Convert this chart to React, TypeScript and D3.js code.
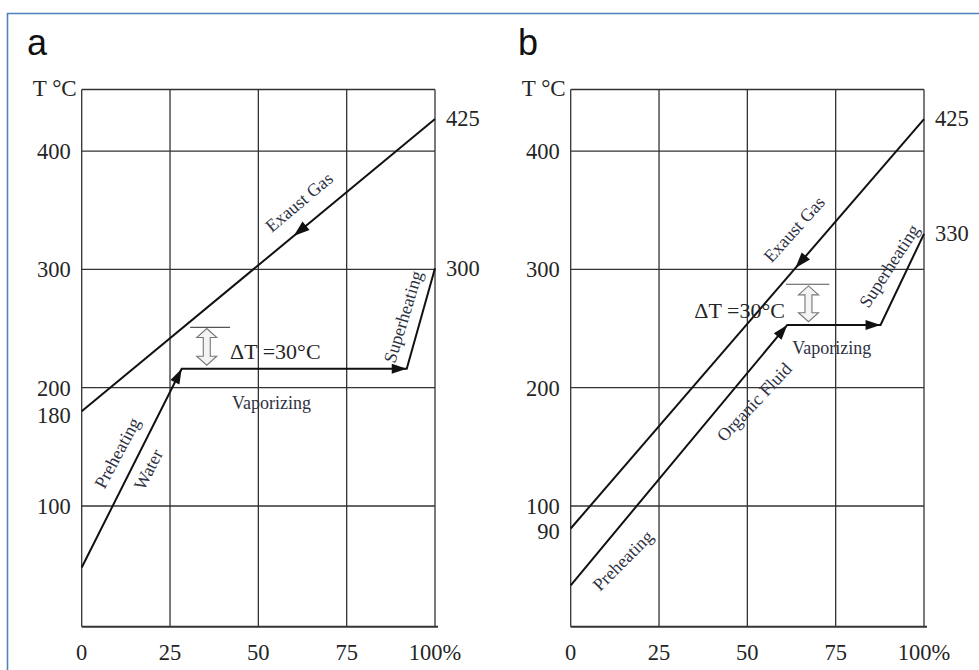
import React from "react";
import * as d3 from "d3";

// ---------- data ----------
const xTicks = [0, 25, 50, 75, 100];
const xTickLabels = ["0", "25", "50", "75", "100%"];
const yTicks = [100, 200, 300, 400];
const yDomain = [-2, 452];

// panel a (water)
const gasA = [
  { x: 0, T: 180 },
  { x: 100, T: 427 },
];
const waterA = [
  { x: 0, T: 48 },
  { x: 28.3, T: 216 },
  { x: 92, T: 216 },
  { x: 100, T: 301 },
];
// panel b (organic fluid)
const gasB = [
  { x: 0, T: 81 },
  { x: 100, T: 427 },
];
const fluidB = [
  { x: 0, T: 33 },
  { x: 61.3, T: 253 },
  { x: 87.7, T: 253 },
  { x: 100, T: 330 },
];

const extraLeftA = [{ text: "180", T: 177 }];
const extraLeftB = [{ text: "90", T: 79 }];
const rightLabelsA = [
  { text: "425", T: 428 },
  { text: "300", T: 301 },
];
const rightLabelsB = [
  { text: "425", T: 428 },
  { text: "330", T: 331 },
];

const labelsA = [
  { text: "Exaust Gas", x: 61.5, T: 357, angle: -40 },
  { text: "Preheating", x: 10.0, T: 145, angle: -62 },
  { text: "Water", x: 18.8, T: 131, angle: -63 },
  { text: "Superheating", x: 90.9, T: 260, angle: -73 },
  { text: "Vaporizing", x: 53.7, T: 187, angle: 0 },
];
const labelsB = [
  { text: "Exaust Gas", x: 63.2, T: 334, angle: -48 },
  { text: "Organic Fluid", x: 51.9, T: 188, angle: -47 },
  { text: "Preheating", x: 14.7, T: 54, angle: -45 },
  { text: "Superheating", x: 90.1, T: 303, angle: -57 },
  { text: "Vaporizing", x: 73.9, T: 233.5, angle: 0 },
];

const deltaA = { text: "ΔT =30°C", tx: 54.8, tT: 231, barX0: 30.7, barX1: 42.0, barT: 251, arrowX: 35.4, arrowT0: 250, arrowT1: 219 };
const deltaB = { text: "ΔT =30°C", tx: 47.8, tT: 265.6, barX0: 60.9, barX1: 73.2, barT: 287.4, arrowX: 67.3, arrowT0: 286, arrowT1: 255.7 };

// x position (%) of the arrow tip drawn on the exhaust gas line
const gasArrowA = 60;
const gasArrowB = 63.6;

// ---------- drawing ----------
const SERIF = "'Liberation Serif', 'Times New Roman', serif";
const TICK_COLOR = "#252525";
const LABEL_COLOR = "#2e3142";

type Pt = { x: number; T: number };

function arrowHead(tip: [number, number], from: [number, number], len = 15, half = 5) {
  const dx = tip[0] - from[0];
  const dy = tip[1] - from[1];
  const d = Math.hypot(dx, dy);
  const ux = dx / d;
  const uy = dy / d;
  const bx = tip[0] - ux * len;
  const by = tip[1] - uy * len;
  const px = -uy;
  const py = ux;
  return `M${tip[0]},${tip[1]}L${bx + px * half},${by + py * half}L${bx - px * half},${by - py * half}Z`;
}

function Panel(props: {
  left: number;
  right: number;
  top: number;
  bottom: number;
  letter: string;
  letterX: number;
  gas: Pt[];
  fluid: Pt[];
  gasArrowX: number;
  extraLeft: { text: string; T: number }[];
  rightLabels: { text: string; T: number }[];
  labels: { text: string; x: number; T: number; angle: number }[];
  delta: typeof deltaA;
}) {
  const { left, right, top, bottom } = props;
  const x = d3.scaleLinear().domain([0, 100]).range([left, right]);
  const y = d3.scaleLinear().domain(yDomain).range([bottom, top]);
  const line = d3
    .line<Pt>()
    .x((d) => x(d.x))
    .y((d) => y(d.T));

  const gasT = (xv: number) => {
    const [a, b] = props.gas;
    return a.T + ((b.T - a.T) * (xv - a.x)) / (b.x - a.x);
  };
  const gTip: [number, number] = [x(props.gasArrowX), y(gasT(props.gasArrowX))];
  const gFrom: [number, number] = [x(props.gas[1].x), y(props.gas[1].T)];

  const f = props.fluid;
  const pre = arrowHead([x(f[1].x), y(f[1].T)], [x(f[0].x), y(f[0].T)]);
  const vap = arrowHead([x(f[2].x), y(f[2].T)], [x(f[1].x), y(f[1].T)]);

  const dl = props.delta;
  const cx = x(dl.arrowX);
  const y1 = y(dl.arrowT0);
  const y2 = y(dl.arrowT1);
  const hh = 9;
  const hw = 10;
  const sw = 3.5;
  const dbl = `M${cx},${y1}L${cx + hw},${y1 + hh}L${cx + sw},${y1 + hh}L${cx + sw},${y2 - hh}L${cx + hw},${y2 - hh}L${cx},${y2}L${cx - hw},${y2 - hh}L${cx - sw},${y2 - hh}L${cx - sw},${y1 + hh}L${cx - hw},${y1 + hh}Z`;

  return (
    <g>
      <text x={props.letterX} y={55} fontFamily="'Liberation Sans', Arial, sans-serif" fontSize={36} fill="#111">
        {props.letter}
      </text>
      <text x={left - 5} y={96} textAnchor="end" fontFamily={SERIF} fontSize={23} fill={TICK_COLOR}>
        T °C
      </text>
      {/* grid */}
      {xTicks.map((t) => (
        <line key={"vx" + t} x1={x(t)} x2={x(t)} y1={top} y2={bottom} stroke="#333" strokeWidth={1.3} />
      ))}
      {yTicks.map((t) => (
        <line key={"hy" + t} x1={left} x2={right} y1={y(t)} y2={y(t)} stroke="#333" strokeWidth={1.3} />
      ))}
      <line x1={left} x2={right} y1={top} y2={top} stroke="#333" strokeWidth={1.3} />
      <line x1={left} x2={right + 3} y1={bottom} y2={bottom} stroke="#333" strokeWidth={2} />
      {/* tick labels */}
      {xTicks.map((t, i) => (
        <text key={"xl" + t} x={x(t)} y={660} textAnchor="middle" fontFamily={SERIF} fontSize={22.5} fill={TICK_COLOR}>
          {xTickLabels[i]}
        </text>
      ))}
      {yTicks.map((t) => (
        <text key={"yl" + t} x={left - 11} y={y(t)} dy="0.35em" textAnchor="end" fontFamily={SERIF} fontSize={22.5} fill={TICK_COLOR}>
          {t}
        </text>
      ))}
      {props.extraLeft.map((l) => (
        <text key={"el" + l.text} x={left - 11} y={y(l.T)} dy="0.35em" textAnchor="end" fontFamily={SERIF} fontSize={22.5} fill={TICK_COLOR}>
          {l.text}
        </text>
      ))}
      {props.rightLabels.map((l) => (
        <text key={"rl" + l.text} x={right + 11} y={y(l.T)} dy="0.35em" textAnchor="start" fontFamily={SERIF} fontSize={22.5} fill={TICK_COLOR}>
          {l.text}
        </text>
      ))}
      {/* data lines */}
      <path d={line(props.gas) || ""} fill="none" stroke="#111" strokeWidth={2} />
      <path d={line(props.fluid) || ""} fill="none" stroke="#111" strokeWidth={2} strokeLinejoin="miter" />
      <path d={arrowHead(gTip, gFrom, 16, 5.5)} fill="#111" />
      <path d={pre} fill="#111" />
      <path d={vap} fill="#111" />
      {/* delta T */}
      <line x1={x(dl.barX0)} x2={x(dl.barX1)} y1={y(dl.barT)} y2={y(dl.barT)} stroke="#555" strokeWidth={1.2} />
      <path d={dbl} fill="#f4f4f4" stroke="#777" strokeWidth={1.1} />
      <text x={x(dl.tx)} y={y(dl.tT)} dy="0.35em" textAnchor="middle" fontFamily={SERIF} fontSize={22} fill={TICK_COLOR}>
        {dl.text}
      </text>
      {/* labels */}
      {props.labels.map((l) => (
        <text
          key={"lab" + l.text}
          transform={`translate(${x(l.x)},${y(l.T)}) rotate(${l.angle})`}
          dy="0.35em"
          textAnchor="middle"
          fontFamily={SERIF}
          fontSize={18}
          fill={LABEL_COLOR}
        >
          {l.text}
        </text>
      ))}
    </g>
  );
}

export default function App() {
  return (
    <svg
      width={979}
      height={670}
      viewBox="0 0 979 670"
      style={{ position: "absolute", left: 0, top: 0, background: "#fff" }}
    >
      <rect x={0} y={0} width={979} height={670} fill="#fff" />
      <path d="M7.5,680V13.5H990" fill="none" stroke="#4f81bd" strokeWidth={1.6} />
      <Panel
        left={81.7}
        right={435}
        top={89.5}
        bottom={626.7}
        letter="a"
        letterX={27}
        gas={gasA}
        fluid={waterA}
        gasArrowX={gasArrowA}
        extraLeft={extraLeftA}
        rightLabels={rightLabelsA}
        labels={labelsA}
        delta={deltaA}
      />
      <Panel
        left={570.7}
        right={924}
        top={89.5}
        bottom={626.7}
        letter="b"
        letterX={518}
        gas={gasB}
        fluid={fluidB}
        gasArrowX={gasArrowB}
        extraLeft={extraLeftB}
        rightLabels={rightLabelsB}
        labels={labelsB}
        delta={deltaB}
      />
    </svg>
  );
}
